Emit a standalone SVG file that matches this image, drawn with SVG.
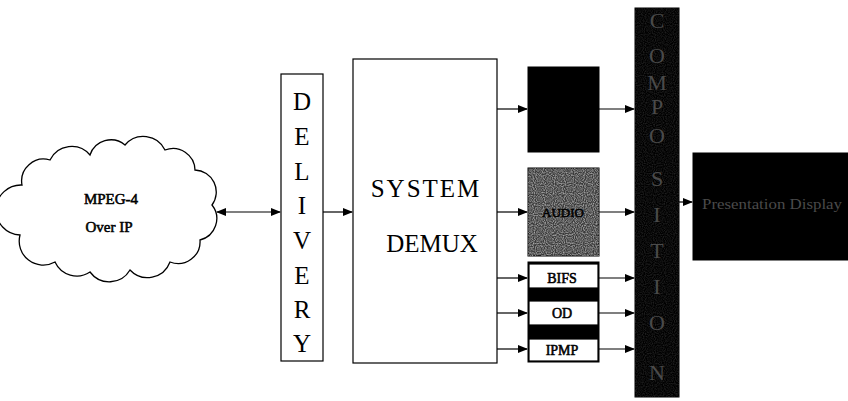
<svg xmlns="http://www.w3.org/2000/svg" width="848" height="401" viewBox="0 0 848 401">
<defs>
<marker id="ah" markerWidth="10" markerHeight="8" refX="9" refY="4" orient="auto" markerUnits="userSpaceOnUse">
<path d="M0,0 L10,4 L0,8 Z" fill="#000"/>
</marker>
<marker id="ahs" markerWidth="10" markerHeight="8" refX="1" refY="4" orient="auto" markerUnits="userSpaceOnUse">
<path d="M10,0 L0,4 L10,8 Z" fill="#000"/>
</marker>
<filter id="noise" x="0" y="0" width="100%" height="100%">
<feTurbulence type="fractalNoise" baseFrequency="0.9" numOctaves="1" seed="3" result="n"/>
<feColorMatrix type="matrix" in="n" values="0 0 0 0 1  0 0 0 0 1  0 0 0 0 1  0 0 0 -2.2 1.45"/>
</filter>
</defs>
<style>
.box{fill:#fff;stroke:#000;stroke-width:1.2}
.blk{fill:#000;stroke:#000;stroke-width:1}
.ln{stroke:#000;stroke-width:1.2;fill:none;marker-end:url(#ah)}
.ser{font-family:"Liberation Serif","Times New Roman",serif;fill:#000}
.big{font-size:25px;text-anchor:middle}
.bd{stroke:#000;stroke-width:0.55}
.sm{font-size:14px;text-anchor:middle}
.cl{font-size:15px;text-anchor:middle}
.faint{font-family:"Liberation Serif","Times New Roman",serif;fill:#4a4a4a;text-anchor:middle}
</style>
<rect width="848" height="401" fill="#fff"/>

<g id="cloud">
<path d="M20,235 A24,24 0 0 1 22,185 A22,22 0 0 1 50,160 A24,24 0 0 1 90,155 A22,22 0 0 1 125,145 A24,24 0 0 1 165,150 A22,22 0 0 1 195,170 A22,22 0 0 1 212,205 A22,22 0 0 1 200,240 A22,22 0 0 1 170,262 A24,24 0 0 1 130,270 A24,24 0 0 1 90,272 A24,24 0 0 1 55,262 A24,24 0 0 1 20,235 Z" fill="#fff" stroke="#000" stroke-width="1.3"/>
<text class="ser cl bd" x="111" y="204">MPEG-4</text>
<text class="ser cl bd" x="109" y="232">Over IP</text>
</g>

<g id="delivery">
<rect class="box" x="281" y="74" width="42" height="287"/>
<g class="ser big">
<text x="302" y="110">D</text>
<text x="302" y="145">E</text>
<text x="302" y="180">L</text>
<text x="302" y="214">I</text>
<text x="302" y="249">V</text>
<text x="302" y="284">E</text>
<text x="302" y="318">R</text>
<text x="302" y="352">Y</text>
</g>
</g>

<g id="demux">
<rect class="box" x="353" y="59" width="144" height="304"/>
<text class="ser big" x="426" y="197" letter-spacing="2">SYSTEM</text>
<text class="ser big" x="432" y="252">DEMUX</text>
</g>

<g id="video">
<rect class="blk" x="528" y="67" width="71" height="85"/>
</g>

<g id="audio">
<rect x="528" y="168" width="71" height="88" fill="#3a3a3a" stroke="#000"/>
<rect x="528" y="168" width="71" height="88" filter="url(#noise)" opacity="0.55"/>
<text class="ser bd" x="563" y="217" font-size="13" text-anchor="middle" fill="#e8e8e8" stroke="#e8e8e8" stroke-width="0.4">AUDIO</text>
</g>

<g id="streams">
<rect class="blk" x="528" y="262" width="71" height="100"/>
<rect class="box" x="529" y="264" width="69" height="24"/>
<rect class="box" x="529" y="301" width="69" height="24"/>
<rect class="box" x="529" y="339" width="69" height="22"/>
</g>
<g id="bifs"><text class="ser sm bd" x="562" y="283">BIFS</text></g>
<g id="od"><text class="ser sm bd" x="562" y="318">OD</text></g>
<g id="ipmp"><text class="ser sm bd" x="562" y="355" font-size="13">IPMP</text></g>

<g id="composition">
<rect class="blk" x="635" y="8" width="44" height="389"/>
<rect x="635" y="8" width="44" height="389" filter="url(#noise)" opacity="0.12"/>
<g class="faint" font-size="22">
<text x="657" y="28">C</text>
<text x="657" y="63">O</text>
<text x="657" y="90">M</text>
<text x="657" y="114">P</text>
<text x="657" y="143">O</text>
<text x="657" y="186">S</text>
<text x="657" y="222">I</text>
<text x="657" y="258">T</text>
<text x="657" y="294">I</text>
<text x="657" y="330">O</text>
<text x="657" y="380">N</text>
</g>
</g>

<g id="presentation">
<rect class="blk" x="693" y="153" width="155" height="107"/>
<text class="faint" x="772" y="209" font-size="14" textLength="140" lengthAdjust="spacingAndGlyphs">Presentation Display</text>
</g>

<g id="connectors">
<line x1="217" y1="212" x2="280" y2="212" class="ln" style="marker-start:url(#ahs)"/>
<line x1="323" y1="212" x2="352" y2="212" class="ln"/>
<line x1="497" y1="109" x2="527" y2="109" class="ln"/>
<line x1="497" y1="212" x2="527" y2="212" class="ln"/>
<line x1="497" y1="278" x2="527" y2="278" class="ln"/>
<line x1="497" y1="313" x2="527" y2="313" class="ln"/>
<line x1="497" y1="349" x2="527" y2="349" class="ln"/>
<line x1="599" y1="109" x2="634" y2="109" class="ln"/>
<line x1="599" y1="212" x2="634" y2="212" class="ln"/>
<line x1="599" y1="278" x2="634" y2="278" class="ln"/>
<line x1="599" y1="313" x2="634" y2="313" class="ln"/>
<line x1="599" y1="349" x2="634" y2="349" class="ln"/>
<line x1="679" y1="202" x2="692" y2="202" class="ln"/>
</g>
</svg>
